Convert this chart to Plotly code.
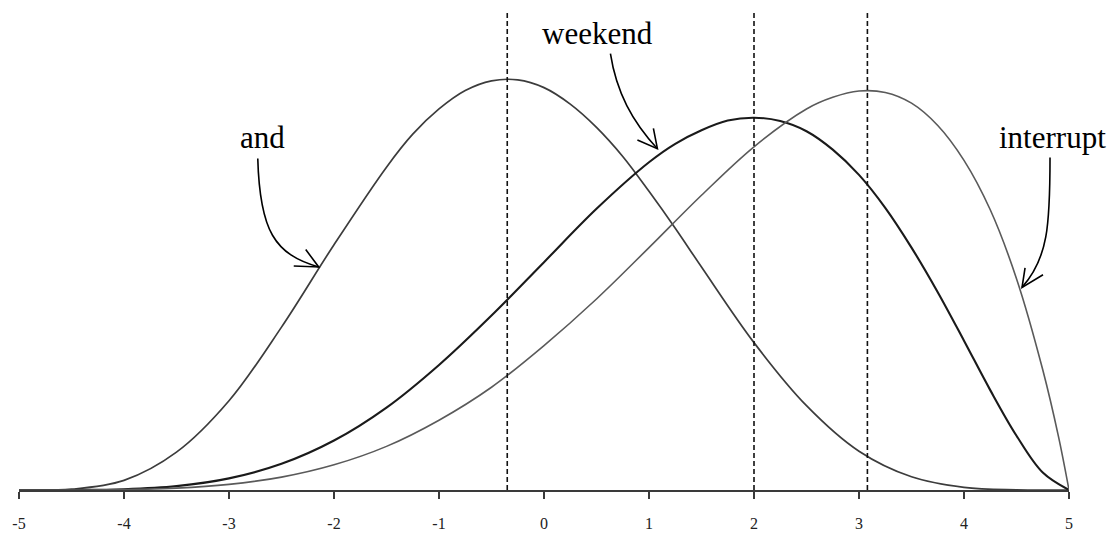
import plotly.graph_objects as go

# ---------------- data ----------------
x_and = [-5, -4.5, -4, -3.5, -3, -2.5, -2, -1.5, -1.25, -1, -0.75, -0.5, -0.25, 0, 0.25, 0.5, 0.75, 1, 1.25, 1.5,
         2, 2.5, 3, 3.5, 4, 4.5, 5]
y_and = [0, 0.8, 9.9, 39, 92, 168, 253, 333, 367, 393, 412, 422, 423, 415, 398, 374, 344, 308, 270, 230,
         152, 87, 40, 13.6, 2.7, 0.1, 0]

x_weekend = [-5, -4.5, -4, -3.5, -3, -2.5, -2, -1.5, -1, -0.5, 0, 0.5, 1,
             1.25, 1.5, 1.75, 2, 2.25, 2.5, 2.75, 3, 3.25, 3.5, 3.75, 4, 4.25, 4.5, 4.75, 5]
y_weekend = [0, 0.05, 0.8, 4.0, 12, 27, 51, 85, 129, 180, 235, 290, 338,
             357, 371, 381, 384, 380.5, 370, 351, 325, 291, 250, 204, 154, 103, 56, 18, 0]

x_interrupt = [-5, -4.5, -4, -3.5, -3, -2.5, -2, -1.5, -1, -0.5, 0, 0.5, 1, 1.5, 2, 2.5,
               2.75, 3, 3.25, 3.5, 3.75, 4, 4.25, 4.5, 4.75, 4.9, 5]
y_interrupt = [0, 0.02, 0.4, 1.9, 5.8, 13.3, 26, 45, 72, 106, 149, 197, 250, 304, 354, 393,
               405, 411.5, 410, 399, 376, 340, 289, 218, 124, 55, 0]

modes = [-0.35, 2.0, 3.08]
tick_vals = [-5, -4, -3, -2, -1, 0, 1, 2, 3, 4, 5]
tick_text = ["-5", "-4", "-3", "-2", "-1", "0", "1", "2", "3", "4", "5"]
labels = ["and", "weekend", "interrupt"]

# ---------------- layout geometry ----------------
W, H = 1109, 544
ML, MR, MT, MB = 18, 40, 12, 39
XMIN, XMAX = -5, 5
YMAX = 493
PW, PH = W - ML - MR, H - MT - MB


def dx(px):
    return XMIN + (px - ML) / PW * (XMAX - XMIN)


def dy(py):
    return (H - MB - py) / PH * YMAX


def paper_x(px):
    return (px - ML) / PW


def paper_y(py):
    return (H - MB - py) / PH


def pt(p):
    return f"{dx(p[0]):.4f},{dy(p[1]):.3f}"


def bezier(p0, c1, c2, p1):
    return f"M {pt(p0)} C {pt(c1)} {pt(c2)} {pt(p1)}"


def head(a, tip, b):
    return f"M {pt(a)} L {pt(tip)} L {pt(b)}"


fig = go.Figure()
fig.add_trace(go.Scatter(x=x_and, y=y_and, mode="lines",
                         line=dict(color="#3c3c3c", width=1.7, shape="spline", smoothing=1.0),
                         name=labels[0], hoverinfo="skip"))
fig.add_trace(go.Scatter(x=x_weekend, y=y_weekend, mode="lines",
                         line=dict(color="#1a1a1a", width=2.1, shape="spline", smoothing=1.0),
                         name=labels[1], hoverinfo="skip"))
fig.add_trace(go.Scatter(x=x_interrupt, y=y_interrupt, mode="lines",
                         line=dict(color="#5a5a5a", width=1.6, shape="spline", smoothing=1.0),
                         name=labels[2], hoverinfo="skip"))

shapes = []
for m in modes:
    shapes.append(dict(type="line", xref="x", yref="paper", x0=m, x1=m, y0=0, y1=1,
                       line=dict(color="#111111", width=1.6, dash="5px,3px")))

arrow_line = dict(color="black", width=1.6)
# "and" arrow
shapes.append(dict(type="path", xref="x", yref="y",
                   path=bezier((257, 163), (259, 238), (274, 262), (318, 275)), line=arrow_line))
shapes.append(dict(type="path", xref="x", yref="y",
                   path=head((305, 257), (318, 275), (293, 274)), line=arrow_line))
# "weekend" arrow
shapes.append(dict(type="path", xref="x", yref="y",
                   path=bezier((610, 55), (616, 95), (632, 125), (657, 153)), line=arrow_line))
shapes.append(dict(type="path", xref="x", yref="y",
                   path=head((653, 132), (657, 153), (637, 144)), line=arrow_line))
# "interrupt" arrow
shapes.append(dict(type="path", xref="x", yref="y",
                   path=bezier((1050, 162), (1050, 232), (1048, 266), (1022, 296)), line=arrow_line))
shapes.append(dict(type="path", xref="x", yref="y",
                   path=head((1025, 276), (1022, 296), (1043, 283)), line=arrow_line))

text_font = dict(family="Liberation Serif, Times New Roman, serif", size=31, color="black")
annotations = [
    dict(x=paper_x(262), y=paper_y(141), text=labels[0], showarrow=False, xref="paper", yref="paper",
         xanchor="center", yanchor="middle", font=text_font),
    dict(x=paper_x(597), y=paper_y(34), text=labels[1], showarrow=False, xref="paper", yref="paper",
         xanchor="center", yanchor="middle", font=text_font),
    dict(x=paper_x(1107), y=paper_y(141), text=labels[2], showarrow=False, xref="paper", yref="paper",
         xanchor="right", yanchor="middle", font=text_font, borderpad=0),
]

fig.update_layout(
    width=W, height=H,
    margin=dict(l=ML, r=MR, t=MT, b=MB, pad=0),
    paper_bgcolor="white", plot_bgcolor="white",
    showlegend=False,
    shapes=shapes,
    annotations=annotations,
    xaxis=dict(range=[XMIN, XMAX], showgrid=False, zeroline=False,
               showline=True, linecolor="#3a3a3a", linewidth=2,
               ticks="outside", ticklen=7, tickwidth=1.5, tickcolor="#3a3a3a",
               tickvals=tick_vals, ticktext=tick_text, ticklabelstandoff=11,
               tickfont=dict(family="Liberation Serif, Times New Roman, serif", size=16, color="#222")),
    yaxis=dict(range=[0, YMAX], visible=False, showgrid=False, zeroline=False),
)

fig.write_html("out.html", config={"displayModeBar": False},
               post_script="document.body.style.margin='0';document.body.style.overflow='hidden';")
